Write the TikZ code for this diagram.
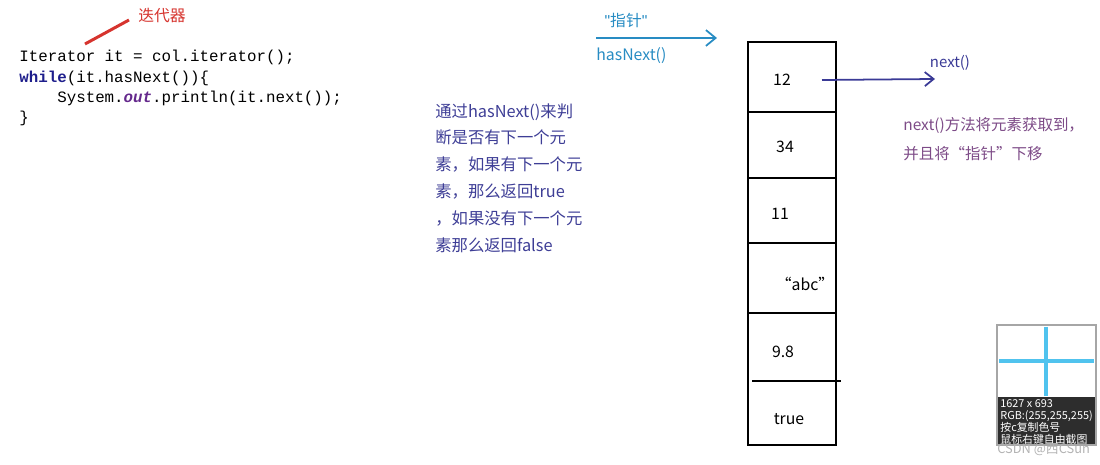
\documentclass[tikz,border=0pt]{standalone}
\usepackage{fontspec}
\setmainfont{Noto Sans CJK SC}
\setmonofont{Liberation Mono}
\newfontfamily\latinsans{Liberation Sans}
\usetikzlibrary{arrows.meta}

\definecolor{codeblue}{RGB}{30,30,140}
\definecolor{outpurple}{RGB}{100,40,140}
\definecolor{itred}{RGB}{214,52,46}
\definecolor{notetext}{RGB}{62,62,150}
\definecolor{ptrblue}{RGB}{40,140,195}
\definecolor{nextblue}{RGB}{58,58,150}
\definecolor{notepurple}{RGB}{125,75,135}
\definecolor{pickcyan}{RGB}{80,195,238}
\definecolor{pickdark}{RGB}{45,45,45}

\tikzset{
	code/.style={font=\ttfamily\fontsize{9}{11.6}\selectfont, align=left, inner sep=0pt, anchor=north west},
	note/.style={text=notetext, font=\fontsize{9.3}{15.3}\selectfont, align=left, inner sep=0pt, anchor=north west},
	cell/.style={font=\fontsize{9}{11}\selectfont, inner sep=0pt},
	ptr/.style={draw=ptrblue, line width=1pt, -{Straight Barb[length=5.5pt,width=9pt]}},
	nextptr/.style={draw=nextblue, line width=1pt, -{Straight Barb[length=5pt,width=8pt]}}
}

\begin{document}
\begin{tikzpicture}[x=0.02cm, y=-0.02cm]
		\useasboundingbox (0,0) rectangle (1100,465);
		% code and the label
		\node[code] (code) at (19,50) {Iterator it = col.iterator();\\
			\textcolor{codeblue}{\textbf{while}}(it.hasNext())\{\\
			\phantom{xxxx}System.\textcolor{outpurple}{\textbf{\textit{out}}}.println(it.next());\\
			\}};
		\node[text=itred, font=\fontsize{9}{11}\selectfont, inner sep=0pt, anchor=west] (itlabel) at (138,16) {迭代器};
		\coordinate (itref) at (85,44);
		\draw[itred, line width=1.7pt] ([shift={(-9,4)}]itlabel.west) -- (itref);
		% hasNext explanation
		\node[note] (hasnote) at (435,103) {通过hasNext()来判\\断是否有下一个元\\素，如果有下一个元\\素，那么返回true\\，如果没有下一个元\\素那么返回false};
		% pointer
		\coordinate (ptrA) at (596,38);
		\coordinate (ptrB) at (717,38);
		\draw[ptr] (ptrA) -- (ptrB);
		\node[text=ptrblue, font=\fontsize{9}{11}\selectfont, inner sep=0pt] (ptrlabel) at (626,20) {{\latinsans"}指针{\latinsans"}};
		\node[text=ptrblue, font=\fontsize{9}{11}\selectfont, inner sep=0pt, anchor=west] (hasnext) at (596,56) {hasNext()};
		% the collection
		\draw[line width=1pt] (748,42) rectangle (836,445);
		\foreach \y in {112,178,243,313}
			\draw[line width=1pt] (747,\y) -- (836,\y);
		\draw[line width=1pt] (752,381) -- (841,381);
		\node[cell] (c12) at (782,80) {12};
		\node[cell] (c34) at (785,147) {34};
		\node[cell] (c11) at (780,214) {11};
		\node[cell] (cabc) at (805,284) {“abc”};
		\node[cell] (c98) at (783,352) {9.8};
		\node[cell] (ctrue) at (789,419) {true};
		% next
		\coordinate (nextA) at (822,80);
		\coordinate (nextB) at (935,79);
		\draw[nextptr] (nextA) -- (nextB);
		\node[text=nextblue, font=\fontsize{8.5}{10}\selectfont, inner sep=0pt] (nextlabel) at (950,63) {next()};
		\node[note, text=notepurple, font=\fontsize{8.8}{16.4}\selectfont] (nextnote) at (903,117) {next()方法将元素获取到，\\并且将“指针”下移};
		% colour picker of the screenshot tool
		\fill[white] (997,325) rectangle (1096,397);
		\draw[pickcyan, line width=2pt] (1046,327) -- (1046,396);
		\draw[pickcyan, line width=2pt] (999,361) -- (1094,361);
		\fill[pickdark] (997,397) rectangle (1096,445);
		\draw[gray!70, line width=0.6pt] (997,325) rectangle (1096,445);
		\node[text=white, font=\fontsize{6.2}{6.8}\selectfont, align=left, inner sep=0pt, anchor=north west] (pickinfo) at (1000,399) {1627 x 693\\RGB:(255,255,255)\\按c复制色号\\鼠标右键自由截图};
		\node[text=gray!60, font=\fontsize{7.3}{8}\selectfont, inner sep=0pt, anchor=west] (mark) at (997,450) {CSDN @西CSun};
\end{tikzpicture}
\end{document}
